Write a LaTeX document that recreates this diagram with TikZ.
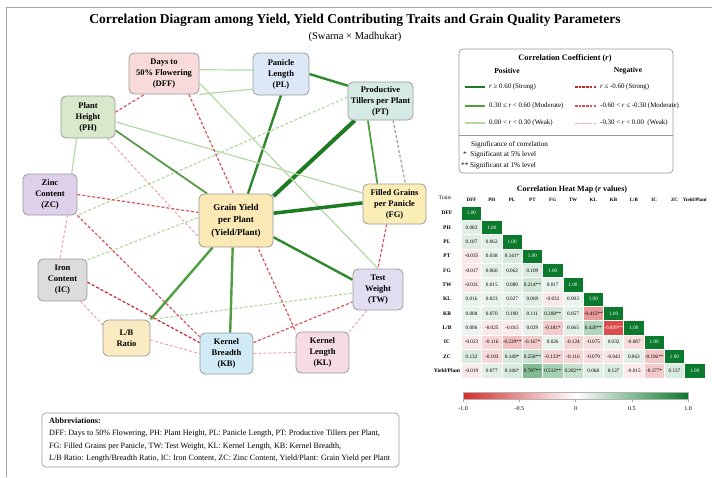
\documentclass[tikz,border=0pt]{standalone}
\usepackage{fontspec}
\setmainfont{Liberation Serif}
\usetikzlibrary{backgrounds}

% edge colours
\definecolor{posS}{HTML}{1E7B22}
\definecolor{posM}{HTML}{4E9F3D}
\definecolor{posW}{HTML}{B3DAA5}
\definecolor{negS}{HTML}{C8262B}
\definecolor{negM}{HTML}{D9545A}
\definecolor{negW}{HTML}{EFA3A8}
\definecolor{nodeline}{HTML}{9A9A9A}
% trait fills
\definecolor{dffF}{HTML}{F8DADA}
\definecolor{plF}{HTML}{DCE8F8}
\definecolor{ptF}{HTML}{D5EAE4}
\definecolor{phF}{HTML}{D8E8CB}
\definecolor{zcF}{HTML}{DFD0EA}
\definecolor{yF}{HTML}{FBE9B5}
\definecolor{fgF}{HTML}{FAEDB6}
\definecolor{icF}{HTML}{DCDCDC}
\definecolor{lbF}{HTML}{FBEBC3}
\definecolor{kbF}{HTML}{D0EBF5}
\definecolor{klF}{HTML}{F6DCE2}
\definecolor{twF}{HTML}{E0DEF0}
% heat map
\definecolor{hmG}{HTML}{0B7A2D}
\definecolor{hmR}{HTML}{D42B2B}

\tikzset{
  trait/.style={draw=nodeline, line width=0.8pt, rounded corners=5pt, align=center,
    font=\fontsize{8.5}{11}\selectfont\bfseries, inner sep=0pt},
  sP/.style={posS, line width=4pt},
  mP/.style={posM, line width=2.4pt},
  wP/.style={posW, line width=1.2pt},
  wPd/.style={posW, line width=1.2pt, dash pattern=on 3pt off 2pt},
  mN/.style={negM, line width=1.2pt, dash pattern=on 3pt off 2pt},
  wN/.style={negW, line width=1pt, dash pattern=on 3pt off 2pt},
  panel/.style={draw=nodeline, line width=0.7pt, rounded corners=4pt},
  legtext/.style={anchor=west, font=\fontsize{6.9}{8}\selectfont, inner sep=0pt},
  sigtext/.style={anchor=west, font=\fontsize{7.2}{8}\selectfont, inner sep=0pt},
  abbr/.style={anchor=west, font=\fontsize{8.1}{9}\selectfont, inner sep=0pt},
  hmcell/.style={draw=white, line width=0.6pt, minimum width=20.3pt, minimum height=14.35pt,
    inner sep=0pt, font=\fontsize{5.2}{6}\selectfont},
  hmhead/.style={font=\fontsize{5}{6}\selectfont\bfseries, inner sep=0pt},
  tick/.style={font=\fontsize{6}{7}\selectfont, inner sep=0pt}
}

\begin{document}
\begin{tikzpicture}[x=1pt, y=-1pt]
\useasboundingbox (0,0) rectangle (712,477);

% outer frame (top and left rules)
\draw[gray!70, line width=0.8pt] (6,477) -- (6,7) -- (712,7);

% titles
\node[font=\fontsize{13.5}{16}\selectfont\bfseries] (title) at (355,20)
  {Correlation Diagram among Yield, Yield Contributing Traits and Grain Quality Parameters};
\node[font=\fontsize{10.5}{12}\selectfont] (subtitle) at (355,37) {(Swarna × Madhukar)};

% ---------------- network of traits ----------------
\node[trait, fill=dffF, minimum width=70pt, minimum height=41pt] (dff) at (164,73.5) {Days to\\50\% Flowering\\(DFF)};
\node[trait, fill=plF, minimum width=56pt, minimum height=42pt] (pl) at (281,74) {Panicle\\Length\\(PL)};
\node[trait, fill=ptF, minimum width=65pt, minimum height=38pt] (pt) at (380.5,101) {Productive\\Tillers per Plant\\(PT)};
\node[trait, fill=phF, minimum width=54pt, minimum height=42pt] (ph) at (88,117) {Plant\\Height\\(PH)};
\node[trait, fill=zcF, minimum width=54pt, minimum height=41pt] (zc) at (50,194.5) {Zinc\\Content\\(ZC)};
\node[trait, fill=yF, minimum width=74pt, minimum height=53pt, font=\fontsize{9}{12.5}\selectfont\bfseries] (yld) at (236,220.5) {Grain Yield\\per Plant\\(Yield/Plant)};
\node[trait, fill=fgF, minimum width=63pt, minimum height=40pt] (fg) at (394.5,204) {Filled Grains\\per Panicle\\(FG)};
\node[trait, fill=icF, minimum width=49pt, minimum height=42pt] (ic) at (62.5,280) {Iron\\Content\\(IC)};
\node[trait, fill=lbF, minimum width=47pt, minimum height=36pt] (lb) at (126.5,338) {L/B\\Ratio};
\node[trait, fill=kbF, minimum width=53pt, minimum height=41pt] (kb) at (226.5,353.5) {Kernel\\Breadth\\(KB)};
\node[trait, fill=klF, minimum width=53pt, minimum height=41pt] (kl) at (322.5,352.5) {Kernel\\Length\\(KL)};
\node[trait, fill=twF, minimum width=50pt, minimum height=41pt] (tw) at (378,289.5) {Test\\Weight\\(TW)};

\begin{pgfonlayer}{background}
  % positive links
  \draw[wP] (dff.6) -- (pl.172);
  \draw[wP] (pl.208) -- (dff.south east);
  \draw[mP, posS!60!posM] (pl.east) -- (pt.155);
  \draw[mP, posS!60!posM] (pl.south) -- (yld.66);
  \draw[sP] (pt.217) -- (yld.33);
  \draw[mP, line width=1.8pt] (pt.237) -- (fg.130);
  \draw[wPd, gray!60!posW] (pt.303) -- (fg.62);
  \draw[wPd] (pt.173) -- (zc.south east);
  \draw[wP] (ph.350) -- (fg.161);
  \draw[mP, line width=1.8pt, posM!80!gray] (ph.334) -- (yld.137);
  \draw[wP] (dff.345) -- (tw.north);
  \draw[wP] (ph.242) -- (zc.44);
  \draw[wPd] (ic.39) -- (yld.175);
  \draw[mP] (lb.north east) -- (yld.229);
  \draw[wPd] (lb.north east) -- (tw.188);
  \draw[mP] (kb.80) -- (yld.263);
  \draw[mP, posS!60!posM] (yld.336) -- (tw.159);
  \draw[sP, line width=3.5pt] (yld.11) -- (fg.178);
  % negative links
  \draw[mN] (ph.10) -- (dff.227);
  \draw[wN] (ph.312) -- (yld.204);
  \draw[mN] (dff.320) -- (kl.142);
  \draw[wN] (zc.310) -- (ic.97);
  \draw[mN] (zc.east) -- (yld.168);
  \draw[mN] (zc.south east) -- (kb.148);
  \draw[mN, negS] (ic.355) -- (kb.158);
  \draw[wN] (ic.310) -- (lb.151);
  \draw[wN] (lb.355) -- (kb.west);
  \draw[mN] (kb.22) -- (tw.206);
  \draw[wN] (kb.east) -- (kl.west);
  \draw[mN] (fg.249) -- (tw.north);
  \draw[wN] (tw.242) -- (kl.north east);
\end{pgfonlayer}

% ---------------- legend ----------------
\draw[panel] (459,49) rectangle (673,173);
\draw[nodeline, line width=0.6pt] (459,135) -- (673,135);
\node[font=\fontsize{8.3}{9}\selectfont\bfseries] (legtitle) at (565,58) {Correlation Coefficient (\textit{r})};
\node[font=\fontsize{7.6}{8}\selectfont\bfseries] (legpos) at (507,71) {Positive};
\node[font=\fontsize{7.6}{8}\selectfont\bfseries] (legneg) at (628,71) {Negative};

\coordinate (ps1a) at (465,87);  \coordinate (ps1b) at (485,87);
\coordinate (ps2a) at (465,106); \coordinate (ps2b) at (485,106);
\coordinate (ps3a) at (465,123); \coordinate (ps3b) at (485,123);
\draw[posS, line width=2.6pt] (ps1a) -- (ps1b);
\draw[posM, line width=1.8pt] (ps2a) -- (ps2b);
\draw[posW, line width=1.1pt] (ps3a) -- (ps3b);
\node[legtext] (lp1) at (489,87) {\textit{r} ≥ 0.60 (Strong)};
\node[legtext] (lp2) at (489,106) {0.30 ≤ \textit{r} < 0.60 (Moderate)};
\node[legtext] (lp3) at (489,123) {0.00 < \textit{r} < 0.30 (Weak)};

\coordinate (ng1a) at (575,87);  \coordinate (ng1b) at (597,87);
\coordinate (ng2a) at (575,106); \coordinate (ng2b) at (597,106);
\coordinate (ng3a) at (575,123); \coordinate (ng3b) at (597,123);
\draw[negS, line width=1.6pt, dash pattern=on 2.5pt off 1.2pt] (ng1a) -- (ng1b);
\draw[negM, line width=1.1pt, dash pattern=on 2.5pt off 1.2pt] (ng2a) -- (ng2b);
\draw[negW, line width=0.9pt, dash pattern=on 2.5pt off 1.2pt] (ng3a) -- (ng3b);
\node[legtext] (ln1) at (600,87) {\textit{r} ≤ -0.60 (Strong)};
\node[legtext] (ln2) at (600,106) {-0.60 < \textit{r} ≤ -0.30 (Moderate)};
\node[legtext] (ln3) at (600,123) {-0.30 < \textit{r} < 0.00~ (Weak)};

\node[sigtext] (sig0) at (471,145) {Significance of correlation};
\node[sigtext] (sig1) at (463,155) {*~~Significant at 5\% level};
\node[sigtext] (sig2) at (461,166) {**~Significant at 1\% level};

% ---------------- heat map ----------------
\node[font=\fontsize{8}{9}\selectfont\bfseries] (hmtitle) at (572,190) {Correlation Heat Map (\textit{r} values)};
\node[font=\fontsize{5.5}{6}\selectfont] (traits) at (445,198) {Traits};

\foreach \t [count=\k] in {DFF,PH,PL,PT,FG,TW,KL,KB,L/B,IC,ZC,Yield/Plant}{
  \node[hmhead] (col\k) at ({471.5+(\k-1)*20.3},200) {\t};
  \node[hmhead, font=\fontsize{5.5}{6}\selectfont\bfseries] (row\k) at (447,{213+(\k-1)*14.35}) {\t};
}

\foreach \vals [count=\i] in {{1.00/0},
  {0.083/0,1.00/0},
  {0.107/0,0.062/0,1.00/0},
  {-0.035/0,0.038/0,0.141/1,1.00/0},
  {-0.017/0,0.060/0,0.062/0,0.109/0,1.00/0},
  {-0.031/0,0.015/0,0.089/0,0.214/2,0.017/0,1.00/0},
  {0.016/0,0.023/0,0.027/0,0.069/0,-0.032/0,0.003/0,1.00/0},
  {0.008/0,0.070/0,0.100/0,0.111/0,0.208/2,0.057/0,-0.415/2,1.00/0},
  {0.006/0,-0.025/0,-0.015/0,0.029/0,-0.181/1,0.065/0,0.420/2,-0.809/2,1.00/0},
  {-0.023/0,-0.116/0,-0.229/2,-0.167/1,0.026/0,-0.124/0,-0.075/0,0.032/0,-0.087/0,1.00/0},
  {0.132/0,-0.103/0,0.149/1,0.258/2,-0.133/1,-0.116/0,-0.079/0,-0.043/0,0.063/0,-0.196/2,1.00/0},
  {-0.019/0,0.077/0,0.146/1,0.787/2,0.513/2,0.282/2,0.068/0,0.127/0,-0.015/0,-0.177/1,0.137/0,1.00/0}}{%
  \foreach \v/\s [count=\j] in \vals {
    \pgfmathtruncatemacro\isneg{\v<0}
    \pgfmathsetmacro\pct{\v>=0 ? 8+55*\v : 8+95*abs(\v)}
    \ifnum\i=\j
      \def\cfill{hmG}\def\ctext{white}
    \else
      \ifnum\isneg=1 \edef\cfill{hmR!\pct!white}\else\edef\cfill{hmG!\pct!white}\fi
      \ifdim\pct pt>60pt \def\ctext{white}\else\def\ctext{black}\fi
    \fi
    \node[hmcell, fill=\cfill, text=\ctext] (c\i-\j) at ({471.5+(\j-1)*20.3},{213+(\i-1)*14.35})
      {\v\ifcase\s\or*\or**\fi};
  }
}

% colour bar
\shade[left color=hmR, right color=white] (463,392) rectangle (575.5,399);
\shade[left color=white, right color=hmG] (575.5,392) rectangle (688,399);
\draw[gray!60, line width=0.4pt] (463,392) rectangle (688,399);
\foreach \x/\lab [count=\k] in {463/-1.0,519.25/-0.5,575.5/0,631.75/0.5,688/1.0}{
  \draw[gray!70, line width=0.4pt] (\x,399) -- (\x,402);
  \node[tick] (tk\k) at (\x,409) {\lab};
}

% ---------------- abbreviations ----------------
\draw[panel] (42,413) rectangle (399,467);
\node[abbr, font=\fontsize{8.1}{9}\selectfont\bfseries] (ab0) at (49,421) {Abbreviations:};
\node[abbr] (ab1) at (49,434) {DFF: Days to 50\% Flowering, PH: Plant Height, PL: Panicle Length, PT: Productive Tillers per Plant,};
\node[abbr] (ab2) at (49,447) {FG: Filled Grains per Panicle, TW: Test Weight, KL: Kernel Length, KB: Kernel Breadth,};
\node[abbr] (ab3) at (49,459) {L/B Ratio: Length/Breadth Ratio, IC: Iron Content, ZC: Zinc Content, Yield/Plant: Grain Yield per Plant};

\end{tikzpicture}
\end{document}
